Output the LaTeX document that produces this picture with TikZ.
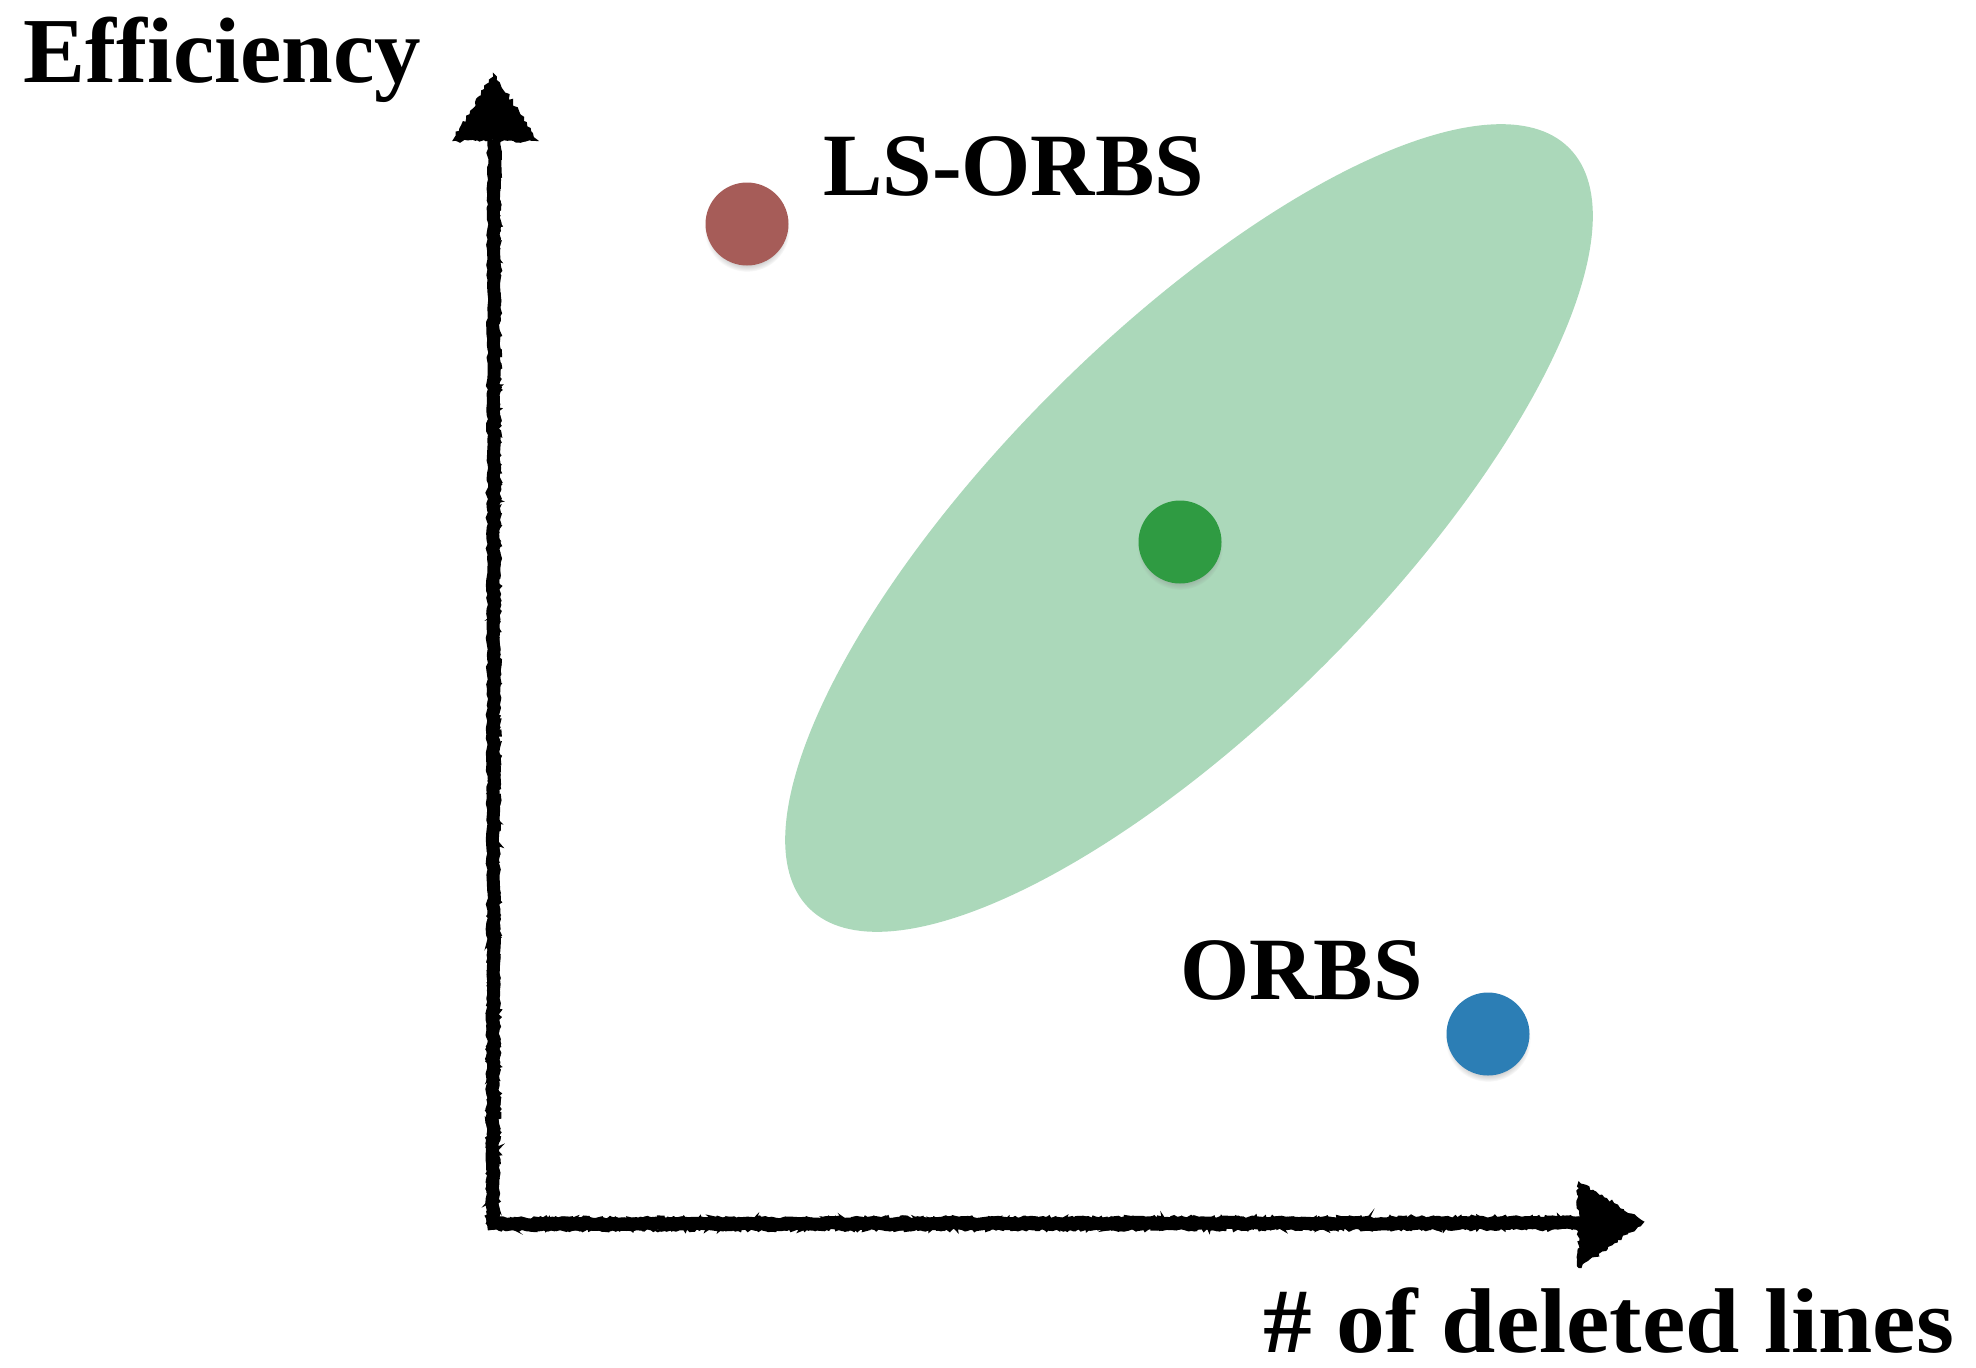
\documentclass[tikz,border=0pt]{standalone}
\usepackage{fontspec}
\setmainfont{Liberation Serif}
\usetikzlibrary{decorations.pathmorphing,shadows,shapes.geometric}

\definecolor{lsred}{RGB}{166,92,88}
\definecolor{orbsblue}{RGB}{44,126,181}
\definecolor{midgreen}{RGB}{47,155,66}
\definecolor{spreadgreen}{RGB}{171,216,186}

\begin{document}
\begin{tikzpicture}[x=1pt,y=-1pt,
  chalk/.style={line width=13pt, decorate,
    decoration={random steps,segment length=5pt,amplitude=1.2pt}},
  chalkedge/.style={line width=2.5pt, decorate,
    decoration={random steps,segment length=2.5pt,amplitude=2.2pt}},
  chalkhead/.style={fill=black, draw=black, line width=2pt, decorate,
    decoration={random steps,segment length=3pt,amplitude=1.8pt}},
  dot/.style={circle, minimum size=83pt, inner sep=0pt,
    circular drop shadow={shadow xshift=0pt, shadow yshift=-5pt,
      shadow scale=1.03, opacity=0.35}},
  axislabel/.style={anchor=base west, inner sep=0pt}]

\pgfmathsetseed{7}
\useasboundingbox (0,0) rectangle (1976,1368);

% spread of the sampled runs
\node[ellipse, fill=spreadgreen, rotate=45, minimum width=1075pt,
  minimum height=385pt, inner sep=0pt] (spread) at (1189,528) {};

% axes
\coordinate (origin) at (493,1224);
\coordinate (ybase) at (494,140);
\coordinate (ytip) at (494,75);
\coordinate (xbase) at (1580,1223);
\coordinate (xtip) at (1643,1222);

\draw[chalk] (origin) -- (ybase);
\draw[chalk] ([xshift=-6pt]origin) -- (xbase);
\draw[chalkedge] ([xshift=-5pt]origin) -- (ybase);
\draw[chalkedge] ([xshift=5pt]origin) -- ([xshift=5pt]ybase);
\draw[chalkedge] ([yshift=-5pt]origin) -- ([yshift=-5pt]xbase);
\draw[chalkedge] ([xshift=-6pt,yshift=5pt]origin) -- ([yshift=5pt]xbase);

\draw[chalkhead] (ytip) -- ++(-40,65) -- ++(82,0) -- cycle;
\draw[chalkhead] (xtip) -- ++(-64,-39) -- ++(0,84) -- cycle;

% result points
\node[dot, fill=lsred] (lsorbs) at (747,224) {};
\node[dot, fill=midgreen] (mid) at (1180,542) {};
\node[dot, fill=orbsblue] (orbs) at (1488,1034) {};

% labels
\node[axislabel, font={\fontsize{93}{100}\selectfont\bfseries}] (ylabel)
  at (23,82) {Efficiency};
\node[axislabel, font={\fontsize{89}{96}\selectfont\bfseries}] (lsorbslabel)
  at (823,195) {LS-ORBS};
\node[axislabel, font={\fontsize{89}{96}\selectfont\bfseries}] (orbslabel)
  at (1180,999) {ORBS};
\node[axislabel, font={\fontsize{92}{100}\selectfont\bfseries}] (xlabel)
  at (1263,1352) {\scalebox{1.06}[1]{\# of deleted lines}};

\end{tikzpicture}
\end{document}
